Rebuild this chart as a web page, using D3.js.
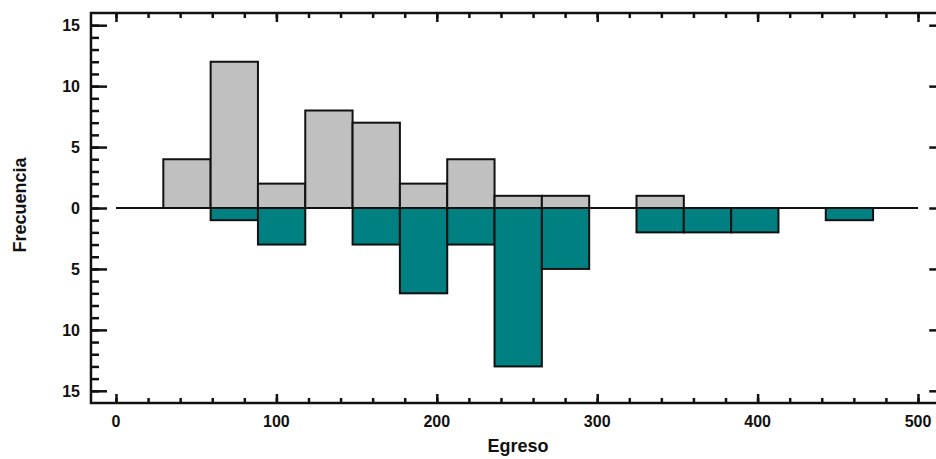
<!DOCTYPE html>
<html>
<head>
<meta charset="utf-8">
<script src="https://cdn.jsdelivr.net/npm/d3@7"></script>
<style>
  body { margin: 0; background: #fff; }
  text { font-family: "Liberation Sans", Arial, sans-serif; font-weight: bold; fill: #111; }
</style>
</head>
<body>
<div id="chart"></div>
<script>
// bin edges (Egreso)
const binEdges = [29.5, 59, 88.5, 118, 147.5, 177, 206.5, 236, 265.5, 295, 324.5, 354, 383.5, 413, 442.5, 472];
// upper (gray) and lower (teal) frequencies per bin
const upperCounts = [4, 12, 2, 8, 7, 2, 4, 1, 1, 0, 1, 0, 0, 0, 0];
const lowerCounts = [0, 1, 3, 0, 3, 7, 3, 13, 5, 0, 2, 2, 2, 0, 1];
const xTicks = [0, 100, 200, 300, 400, 500];
const yTicks = [-15, -10, -5, 0, 5, 10, 15];

const width = 936, height = 459;

const svg = d3.select("#chart")
    .append("svg")
    .attr("width", width)
    .attr("height", height);

const x = d3.scaleLinear().domain([0, 500]).range([116, 918]);
const y = d3.scaleLinear().domain([-16, 16]).range([403, 13]);

const frameL = x(-15.6), frameR = x(517), frameT = y(16), frameB = y(-16);

// bars
const bins = upperCounts.map((d, i) => ({x0: binEdges[i], x1: binEdges[i + 1], up: d, down: lowerCounts[i]}));

svg.append("g").selectAll("rect")
    .data(bins.filter(d => d.up > 0))
    .enter()
    .append("rect")
    .attr("x", d => x(d.x0))
    .attr("y", d => y(d.up))
    .attr("width", d => x(d.x1) - x(d.x0))
    .attr("height", d => y(0) - y(d.up))
    .attr("fill", "#c0c0c0")
    .attr("stroke", "#111")
    .attr("stroke-width", 2);

svg.append("g").selectAll("rect")
    .data(bins.filter(d => d.down > 0))
    .enter()
    .append("rect")
    .attr("x", d => x(d.x0))
    .attr("y", y(0))
    .attr("width", d => x(d.x1) - x(d.x0))
    .attr("height", d => y(-d.down) - y(0))
    .attr("fill", "#008080")
    .attr("stroke", "#111")
    .attr("stroke-width", 2);

// zero line
svg.append("line")
    .attr("x1", x(0)).attr("x2", x(500))
    .attr("y1", y(0)).attr("y2", y(0))
    .attr("stroke", "#111").attr("stroke-width", 2);

// frame
svg.append("rect")
    .attr("x", frameL).attr("y", frameT)
    .attr("width", frameR - frameL).attr("height", frameB - frameT)
    .attr("fill", "none")
    .attr("stroke", "#111")
    .attr("stroke-width", 2.5);

// x axes (bottom + top), ticks inward
const xMinor = d3.range(0, 501, 20);

function styleAxis(g) {
    g.select(".domain").remove();
    g.selectAll(".tick line").attr("stroke", "#111").attr("stroke-width", 2.5);
}

svg.append("g").attr("transform", `translate(0,${frameB})`)
    .call(d3.axisBottom(x).tickValues(xMinor).tickSize(-5).tickFormat(""))
    .call(styleAxis);
svg.append("g").attr("transform", `translate(0,${frameT})`)
    .call(d3.axisTop(x).tickValues(xMinor).tickSize(-5).tickFormat(""))
    .call(styleAxis);
svg.append("g").attr("transform", `translate(0,${frameB})`)
    .call(d3.axisBottom(x).tickValues(xTicks).tickSize(-9).tickFormat(""))
    .call(styleAxis);
svg.append("g").attr("transform", `translate(0,${frameT})`)
    .call(d3.axisTop(x).tickValues(xTicks).tickSize(-9).tickFormat(""))
    .call(styleAxis);

svg.append("g").selectAll("text")
    .data(xTicks)
    .enter()
    .append("text")
    .attr("x", d => x(d))
    .attr("y", 427)
    .attr("text-anchor", "middle")
    .attr("font-size", 16)
    .text(d => d);

// y axes, left with minor ticks, right majors only
const yMinor = d3.range(-15, 16, 1);
svg.append("g").attr("transform", `translate(${frameL},0)`)
    .call(d3.axisLeft(y).tickValues(yMinor).tickSize(-8).tickFormat(""))
    .call(styleAxis);
svg.append("g").attr("transform", `translate(${frameL},0)`)
    .call(d3.axisLeft(y).tickValues(yTicks).tickSize(-16).tickFormat(""))
    .call(styleAxis);
svg.append("g").attr("transform", `translate(${frameR},0)`)
    .call(d3.axisRight(y).tickValues(yTicks).tickSize(-16).tickFormat(""))
    .call(styleAxis);

svg.append("g").selectAll("text")
    .data(yTicks)
    .enter()
    .append("text")
    .attr("x", 80)
    .attr("y", d => y(d))
    .attr("dy", "0.36em")
    .attr("text-anchor", "end")
    .attr("font-size", 16)
    .text(d => Math.abs(d));

// axis titles
svg.append("text")
    .attr("x", 518)
    .attr("y", 452)
    .attr("text-anchor", "middle")
    .attr("font-size", 18)
    .text("Egreso");

svg.append("text")
    .attr("transform", "translate(26,205) rotate(-90)")
    .attr("text-anchor", "middle")
    .attr("font-size", 18)
    .text("Frecuencia");
</script>
</body>
</html>
